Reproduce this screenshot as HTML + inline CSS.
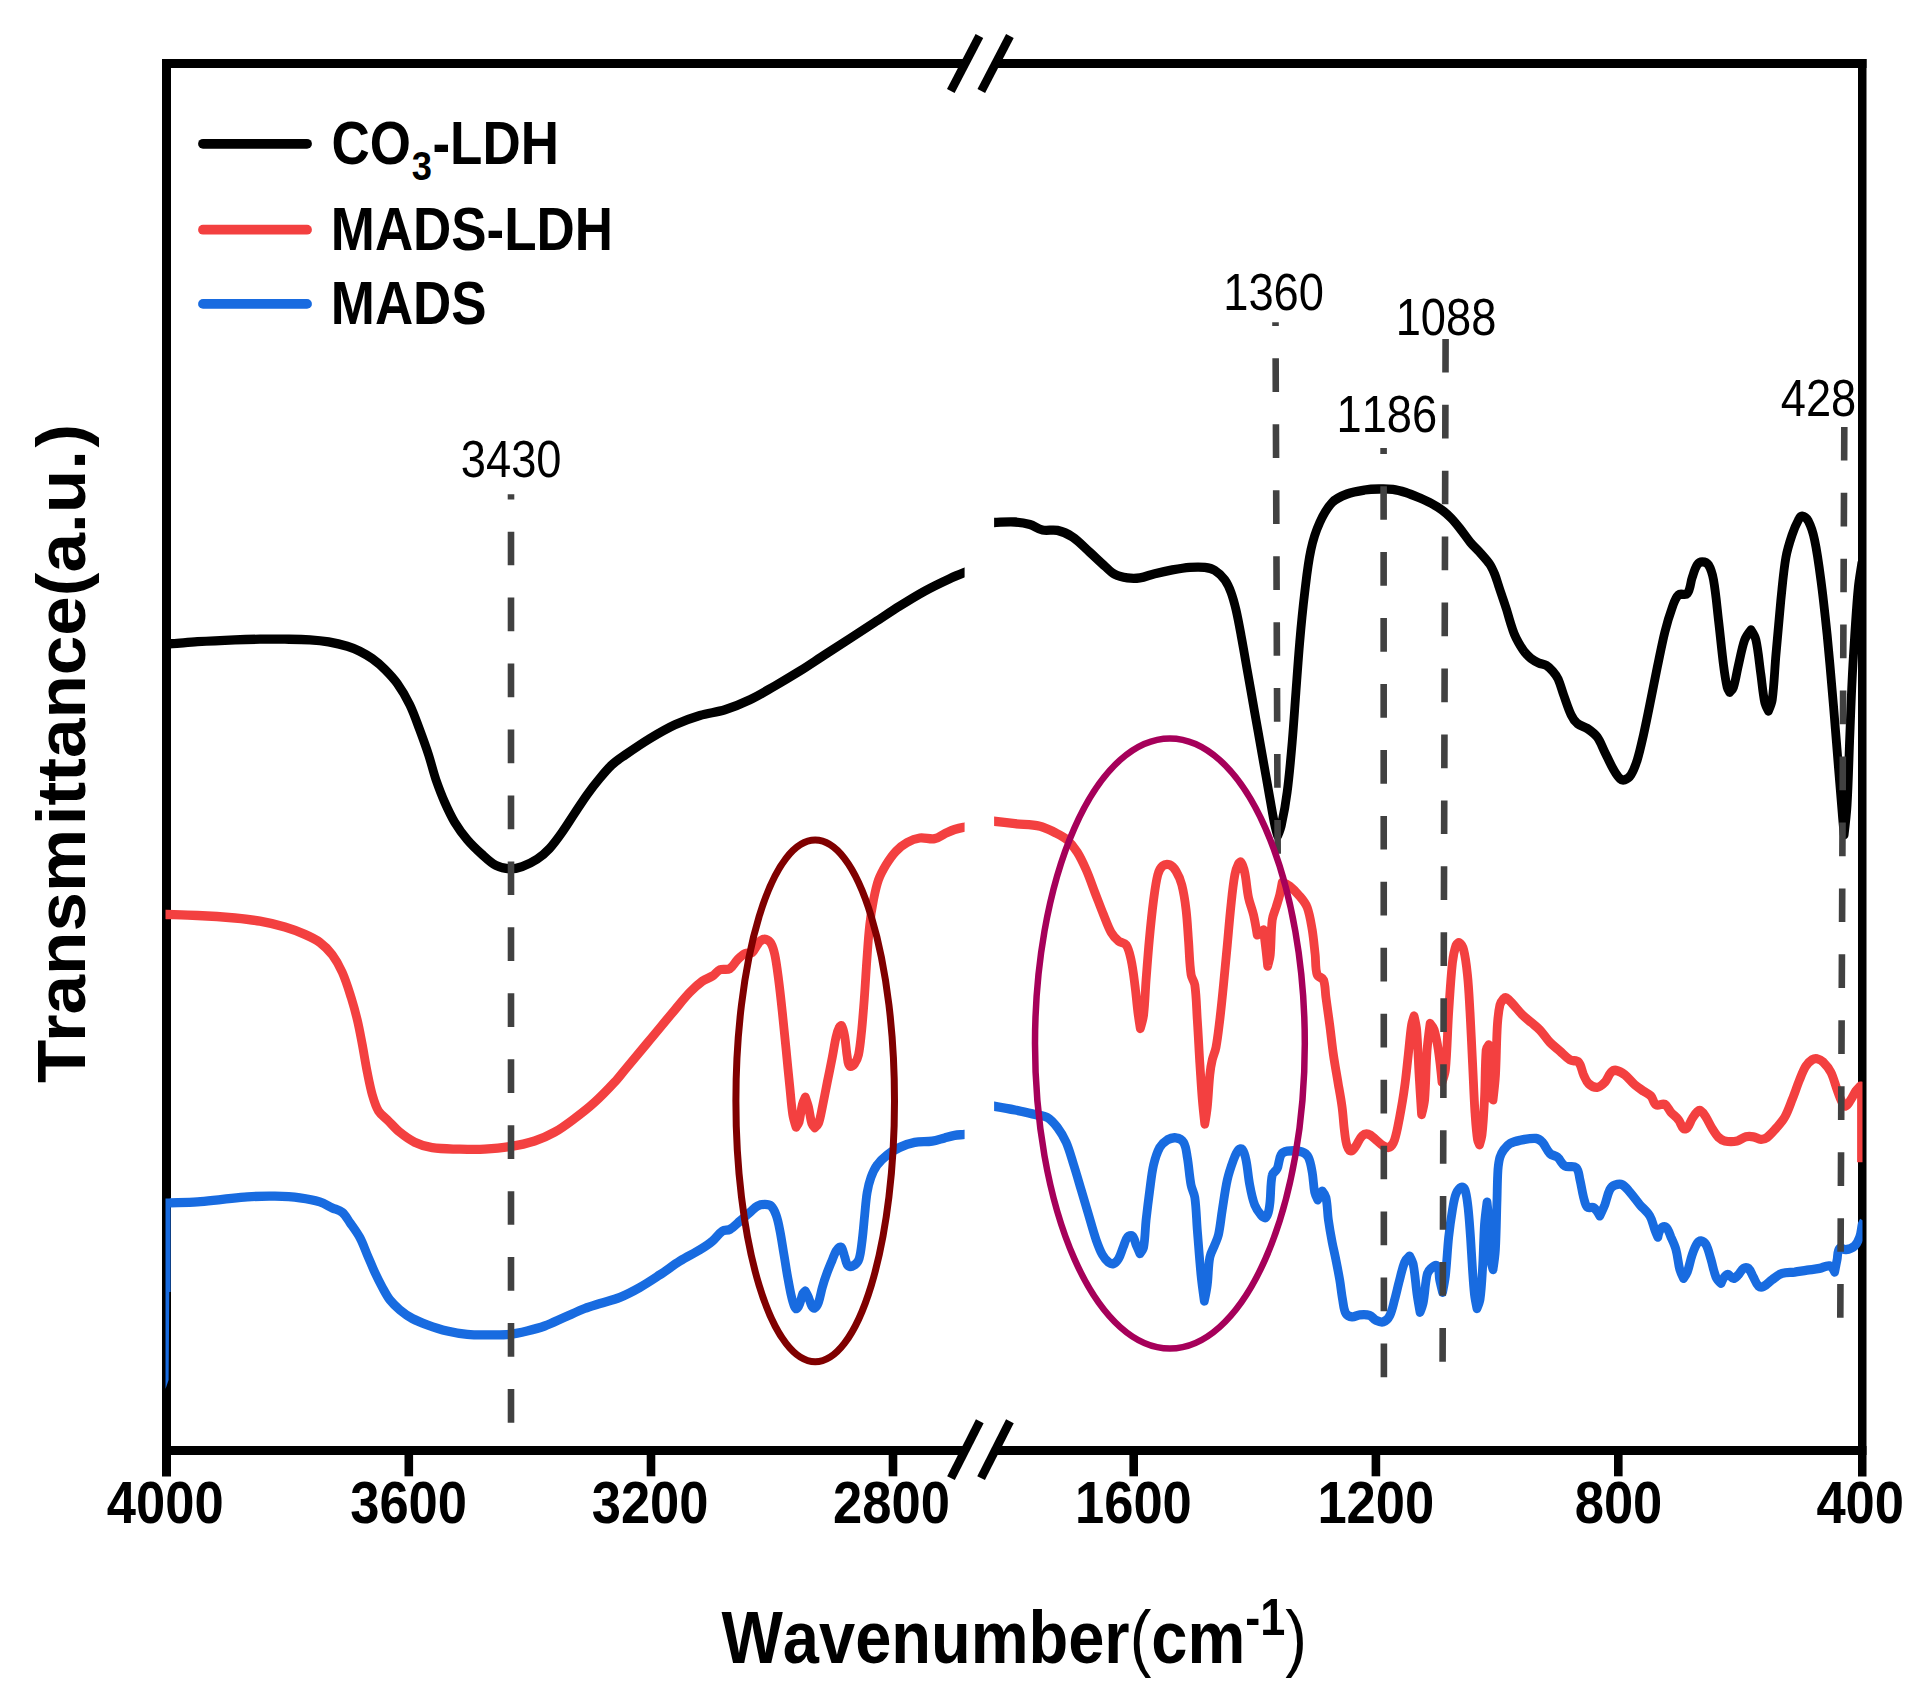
<!DOCTYPE html>
<html lang="en"><head><meta charset="utf-8"><title>FTIR spectra</title>
<style>
html,body{margin:0;padding:0;background:#fff;}
body{width:1922px;height:1705px;overflow:hidden;}
svg{display:block;}
text{font-family:"Liberation Sans", Arial, Helvetica, sans-serif;fill:#000;font-kerning:none;font-variant-ligatures:none;}
.b{font-weight:bold;}
.r{font-weight:normal;}
</style></head><body>
<svg width="1922" height="1705" viewBox="0 0 1922 1705">
<rect x="0" y="0" width="1922" height="1705" fill="#fff"/>
<defs>
<clipPath id="cl"><rect x="165.5" y="68" width="799.1" height="1378"/></clipPath>
<clipPath id="cr"><rect x="994.1" y="68" width="868.4" height="1378"/></clipPath>
<clipPath id="cbl"><rect x="165.5" y="68" width="799.1" height="1330"/></clipPath>
</defs>

<g fill="#000" stroke="none">
<rect x="162" y="59" width="9" height="1417.5"/>
<rect x="1858" y="59" width="8.5" height="1417.5"/>
<rect x="162" y="59" width="804" height="9"/>
<rect x="994" y="59" width="872.5" height="9"/>
<rect x="162" y="1446" width="804" height="9"/>
<rect x="994" y="1446" width="872.5" height="9"/>
<rect x="404.5" y="1455" width="8.6" height="21.3"/>
<rect x="646.7" y="1455" width="8.6" height="21.3"/>
<rect x="888.7" y="1455" width="8.6" height="21.3"/>
<rect x="1129.4" y="1455" width="8.6" height="21.3"/>
<rect x="1371.6" y="1455" width="8.6" height="21.3"/>
<rect x="1614.0" y="1455" width="8.6" height="21.3"/>
</g>
<g stroke="#000" stroke-width="8.6" stroke-linecap="butt" fill="none">
<line x1="950.8" y1="90.9" x2="979.4" y2="36.1"/>
<line x1="981.3" y1="90.9" x2="1009.9" y2="36.1"/>
<line x1="951.0" y1="1478.1" x2="979.8" y2="1421.3"/>
<line x1="981.1" y1="1478.1" x2="1009.9" y2="1421.3"/>
</g>
<g clip-path="url(#cl)"><g transform="scale(0.95,1)"><path d="M171.6,644.0C174.9,643.9 178.3,643.9 181.6,643.7C190.4,643.1 199.1,642.2 207.9,641.7C221.0,640.9 234.1,640.3 247.3,639.8C256.0,639.5 264.8,639.3 273.6,639.2C282.4,639.1 291.1,639.1 299.9,639.2C308.7,639.3 317.5,639.3 326.2,639.8C332.8,640.2 339.4,640.8 345.9,641.9C352.5,643.0 359.1,644.4 365.6,646.2C370.1,647.5 374.5,649.2 378.7,651.2C383.3,653.4 387.7,655.8 391.9,658.7C396.5,661.9 401.0,665.4 405.1,669.3C409.7,673.7 414.4,678.3 418.2,683.5C423.2,690.2 427.6,697.4 431.4,704.8C435.5,712.8 438.5,721.4 441.8,729.8C445.0,738.0 448.2,746.3 451.1,754.7C453.9,763.0 456.0,771.5 458.9,779.7C461.7,787.3 464.7,794.9 468.1,802.2C471.3,809.0 474.6,815.8 478.6,822.2C482.5,828.3 486.9,834.2 491.8,839.6C496.6,845.0 502.1,849.9 507.6,854.6C512.1,858.5 516.6,862.7 522.0,865.4C526.5,867.6 531.6,868.7 536.5,868.9C540.9,869.1 545.4,868.0 549.6,866.6C555.1,864.7 560.4,862.2 565.4,859.1C570.2,856.1 574.6,852.4 578.5,848.4C583.4,843.4 587.5,837.8 591.7,832.2C596.3,826.1 600.4,819.7 604.8,813.4C609.2,807.2 613.4,800.8 618.0,794.7C622.2,789.1 626.6,783.7 631.2,778.5C635.3,773.7 639.5,768.9 644.2,764.7C648.4,761.0 653.2,758.1 657.9,755.0C666.6,749.3 675.2,743.7 684.2,738.5C692.8,733.6 701.4,728.8 710.4,724.8C718.9,721.1 727.8,718.0 736.7,715.5C745.4,713.0 754.5,712.4 763.1,709.8C772.0,707.1 780.8,703.7 789.4,699.8C798.4,695.7 806.9,690.7 815.6,686.0C824.4,681.2 833.2,676.2 841.9,671.1C850.8,665.8 859.4,660.2 868.2,654.8C877.0,649.4 885.8,644.0 894.5,638.6C903.3,633.2 912.0,627.8 920.7,622.4C929.5,617.0 938.2,611.4 947.1,606.1C955.7,600.9 964.4,595.8 973.4,591.1C982.0,586.6 990.8,582.6 999.7,578.7C1004.8,576.4 1010.1,574.4 1015.4,572.4C1019.0,571.0 1022.7,569.8 1026.3,568.5" fill="none" stroke="#000" stroke-width="9.3" stroke-linejoin="round" stroke-linecap="butt"/></g></g>
<g clip-path="url(#cr)"><g transform="scale(0.95,1)"><path d="M1036.8,522.8C1039.9,522.7 1042.9,522.6 1046.0,522.5C1053.5,522.3 1061.0,521.6 1068.4,522.0C1073.7,522.3 1079.1,523.1 1084.2,524.5C1088.8,525.8 1092.6,529.1 1097.3,530.0C1102.4,531.1 1107.9,529.3 1113.1,530.4C1118.6,531.6 1124.1,533.8 1128.8,536.9C1135.6,541.2 1141.2,547.2 1147.3,552.4C1152.6,556.9 1157.7,561.7 1163.1,566.2C1166.5,569.1 1169.6,572.4 1173.6,574.4C1177.6,576.4 1182.2,577.3 1186.7,577.9C1191.1,578.5 1195.6,578.5 1199.9,577.9C1205.3,577.1 1210.3,574.9 1215.6,573.7C1221.7,572.3 1227.8,571.0 1234.0,569.9C1240.1,568.9 1246.2,567.9 1252.4,567.4C1257.7,567.0 1263.0,566.8 1268.2,567.4C1271.8,567.8 1275.6,568.5 1278.7,570.4C1282.8,572.8 1286.4,576.2 1289.3,579.9C1292.1,583.6 1294.1,588.0 1295.8,592.4C1298.0,598.1 1299.6,604.0 1301.1,609.9C1303.1,618.1 1304.7,626.5 1306.3,634.8C1308.6,646.4 1310.7,658.1 1312.8,669.8C1315.5,684.0 1318.1,698.1 1320.7,712.3C1323.4,726.4 1326.0,740.6 1328.6,754.7C1331.3,768.9 1333.9,783.0 1336.5,797.2C1338.3,806.4 1339.8,815.6 1341.8,824.7C1342.6,828.5 1344.9,836.0 1344.9,836.0C1344.9,836.0 1348.1,828.6 1348.9,824.7C1351.4,814.0 1353.5,803.1 1354.9,792.2C1357.2,775.6 1358.7,758.9 1360.2,742.2C1361.7,725.6 1362.8,708.9 1364.1,692.3C1365.4,675.6 1366.6,658.9 1368.1,642.3C1369.6,625.6 1371.3,609.0 1373.4,592.4C1375.2,578.2 1376.7,563.9 1379.9,549.9C1382.0,540.5 1385.0,531.2 1389.2,522.5C1392.6,515.3 1396.6,508.1 1402.3,502.5C1406.5,498.3 1412.4,496.0 1418.0,494.0C1423.9,491.8 1430.2,490.9 1436.4,490.0C1441.4,489.3 1446.5,489.1 1451.6,489.0C1456.5,488.9 1461.4,488.8 1466.2,489.4C1470.8,490.0 1475.3,491.2 1479.8,492.5C1484.4,493.9 1488.9,495.7 1493.4,497.5C1498.0,499.4 1502.5,501.2 1506.9,503.5C1510.7,505.4 1514.4,507.6 1517.8,510.0C1521.2,512.4 1524.4,515.1 1527.4,518.0C1530.8,521.3 1533.8,524.9 1536.8,528.5C1540.6,533.0 1543.8,537.9 1547.7,542.3C1551.1,546.2 1555.0,549.5 1558.5,553.2C1561.8,556.8 1565.3,560.2 1568.1,564.2C1570.3,567.4 1571.9,570.9 1573.5,574.5C1575.1,578.3 1576.2,582.2 1577.6,586.1C1578.9,590.0 1580.3,593.8 1581.7,597.7C1583.1,601.6 1584.5,605.5 1585.8,609.4C1587.2,613.7 1588.4,618.0 1589.8,622.3C1591.1,626.2 1592.3,630.1 1593.9,633.9C1595.2,637.0 1596.9,640.0 1598.6,642.9C1600.5,646.0 1602.4,649.1 1604.7,651.9C1606.8,654.3 1609.0,656.5 1611.6,658.4C1614.1,660.2 1616.9,661.7 1619.7,662.9C1622.3,664.0 1625.4,664.1 1627.9,665.5C1630.5,667.0 1632.6,669.1 1634.6,671.3C1636.7,673.6 1638.7,676.2 1640.1,679.0C1642.5,684.1 1643.9,689.6 1645.9,694.8C1648.5,701.5 1650.6,708.4 1653.8,714.8C1655.4,718.1 1657.6,721.2 1660.4,723.5C1663.5,725.9 1667.7,726.4 1670.9,728.5C1674.7,731.0 1678.6,733.6 1681.4,737.2C1684.8,741.7 1686.6,747.2 1689.3,752.2C1692.3,758.0 1695.1,764.0 1698.5,769.7C1700.4,772.8 1702.3,776.1 1705.1,778.5C1706.4,779.7 1708.6,780.2 1710.3,779.7C1713.0,778.9 1715.4,777.0 1716.9,774.7C1719.9,770.1 1721.8,764.9 1723.5,759.7C1726.1,751.5 1728.0,743.1 1730.0,734.8C1732.4,724.8 1734.5,714.8 1736.6,704.8C1739.3,692.3 1741.8,679.8 1744.5,667.3C1747.1,655.6 1749.4,643.9 1752.4,632.3C1754.6,623.9 1757.2,615.5 1760.3,607.4C1762.0,603.0 1763.3,598.0 1766.8,594.9C1769.2,592.8 1774.1,596.0 1776.1,593.6C1779.7,589.2 1779.3,582.7 1781.3,577.4C1782.8,573.2 1784.0,568.6 1786.5,564.9C1787.7,563.2 1789.8,561.9 1791.8,561.9C1794.2,561.9 1797.1,562.9 1798.4,564.9C1801.3,569.3 1802.7,574.7 1803.7,579.9C1806.2,593.1 1807.3,606.6 1808.9,619.9C1810.8,634.9 1812.2,649.9 1814.2,664.8C1815.2,672.3 1816.3,679.9 1818.1,687.3C1818.5,689.1 1820.7,692.3 1820.7,692.3C1820.7,692.3 1824.1,689.3 1824.7,687.3C1827.2,680.0 1828.1,672.3 1830.0,664.8C1832.1,656.4 1833.5,647.9 1836.5,639.8C1837.9,636.1 1843.1,629.9 1843.1,629.9C1843.1,629.9 1847.5,636.2 1848.3,639.8C1851.0,651.3 1851.8,663.1 1853.6,674.8C1854.9,684.0 1855.6,693.2 1857.6,702.3C1858.3,705.4 1861.5,711.0 1861.5,711.0C1861.5,711.0 1864.9,703.7 1865.5,699.8C1867.6,684.9 1868.0,669.8 1869.4,654.8C1871.0,636.5 1872.7,618.2 1874.6,599.9C1876.2,585.7 1877.3,571.4 1879.9,557.4C1881.3,549.7 1883.8,542.3 1886.4,534.9C1888.2,529.8 1890.4,524.7 1893.1,520.0C1893.9,518.4 1895.1,516.0 1896.9,516.2C1899.7,516.5 1902.2,518.8 1903.6,521.2C1906.8,527.0 1908.7,533.5 1910.1,539.9C1913.1,553.1 1914.9,566.5 1916.7,579.9C1919.3,598.2 1921.3,616.5 1923.3,634.8C1925.7,658.1 1927.8,681.5 1929.9,704.8C1931.8,725.6 1933.4,746.4 1935.2,767.2C1936.4,782.2 1937.7,797.2 1939.1,812.2C1939.7,819.7 1941.2,834.6 1941.2,834.6C1941.2,834.6 1943.7,814.7 1944.3,804.7C1945.6,783.9 1946.1,763.0 1946.9,742.2C1947.8,721.4 1948.5,700.6 1949.6,679.8C1950.4,663.2 1951.6,646.5 1952.7,629.9C1953.7,615.7 1954.6,601.5 1956.1,587.4C1957.0,578.9 1958.7,570.5 1960.0,562.0" fill="none" stroke="#000" stroke-width="9.3" stroke-linejoin="round" stroke-linecap="butt"/></g></g>
<g clip-path="url(#cl)"><g transform="scale(0.95,1)"><path d="M168.4,914.5C170.6,914.5 172.8,914.4 174.9,914.5C185.9,914.8 196.9,915.0 207.9,915.5C221.0,916.1 234.2,916.9 247.3,918.0C256.1,918.8 264.9,919.7 273.6,921.2C282.4,922.7 291.2,924.6 299.9,927.0C307.1,929.0 314.1,931.5 320.9,934.4C326.4,936.7 331.8,939.0 336.6,942.4C341.6,945.9 346.0,950.2 349.8,954.9C354.0,960.2 357.4,966.2 360.3,972.4C364.1,980.5 366.8,989.0 369.6,997.4C372.0,1004.8 374.2,1012.3 376.1,1019.9C378.2,1028.1 379.7,1036.5 381.4,1044.8C383.2,1054.0 384.7,1063.2 386.6,1072.3C388.2,1079.8 389.7,1087.4 391.9,1094.8C393.6,1100.4 395.3,1106.1 398.4,1111.0C400.7,1114.6 404.6,1116.9 407.7,1119.8C412.1,1123.9 416.1,1128.5 420.8,1132.2C425.7,1136.0 430.9,1139.6 436.5,1142.2C442.4,1144.9 448.6,1146.8 454.9,1147.7C464.5,1149.1 474.2,1148.9 483.9,1149.2C492.7,1149.4 501.4,1149.6 510.2,1149.2C519.0,1148.8 527.8,1148.1 536.5,1146.7C545.4,1145.3 554.2,1143.6 562.7,1141.0C570.0,1138.8 577.1,1135.8 583.8,1132.2C591.2,1128.3 598.0,1123.3 604.8,1118.5C612.1,1113.4 619.2,1108.1 625.9,1102.3C633.2,1096.0 640.1,1089.2 646.8,1082.3C650.8,1078.3 654.2,1073.9 657.9,1069.7C666.7,1059.7 675.5,1049.8 684.2,1039.8C693.0,1029.8 701.6,1019.7 710.4,1009.8C715.6,1003.9 720.6,997.8 726.2,992.3C730.3,988.2 734.6,984.4 739.4,981.1C742.6,978.9 746.6,978.1 749.9,976.1C752.8,974.3 754.7,971.1 757.8,969.8C761.1,968.5 765.2,970.3 768.3,968.6C771.8,966.7 773.4,962.5 776.2,959.8C778.6,957.5 781.1,955.0 784.1,953.6C786.5,952.5 789.7,953.8 791.9,952.3C794.4,950.6 795.3,947.3 797.2,944.9C798.4,943.3 799.4,941.4 801.2,940.4C802.7,939.5 804.7,938.9 806.4,939.4C808.6,940.1 810.5,941.7 811.7,943.6C813.7,947.0 814.7,950.9 815.6,954.8C817.4,963.0 818.4,971.4 819.6,979.8C821.1,990.6 822.3,1001.5 823.5,1012.3C824.9,1024.8 826.2,1037.3 827.5,1049.8C828.8,1062.3 830.0,1074.7 831.4,1087.2C832.4,1096.4 833.0,1105.6 834.5,1114.7C835.2,1119.0 838.0,1127.2 838.0,1127.2C838.0,1127.2 840.5,1124.1 841.1,1122.2C842.7,1116.5 843.0,1110.4 844.5,1104.7C845.2,1102.1 847.7,1097.2 847.7,1097.2C847.7,1097.2 850.2,1103.8 851.1,1107.2C852.4,1112.5 852.8,1118.1 854.5,1123.4C855.1,1125.1 857.7,1127.7 857.7,1127.7C857.7,1127.7 860.9,1125.2 861.6,1123.4C863.6,1118.2 864.4,1112.6 865.6,1107.2C867.4,1098.9 869.1,1090.5 870.8,1082.2C872.6,1073.9 874.4,1065.5 876.1,1057.2C877.5,1050.6 878.4,1043.9 880.0,1037.3C880.8,1033.9 881.8,1030.4 883.5,1027.3C883.9,1026.4 885.6,1025.2 886.1,1026.0C888.1,1029.4 888.5,1033.5 889.3,1037.3C890.5,1043.9 890.7,1050.6 891.9,1057.2C892.4,1060.2 892.1,1064.1 894.5,1066.0C896.0,1067.2 898.5,1065.0 899.7,1063.5C901.7,1061.0 903.0,1057.9 903.7,1054.8C905.5,1046.6 906.1,1038.2 907.1,1029.8C908.1,1019.8 908.9,1009.8 909.7,999.8C910.7,987.3 911.4,974.8 912.3,962.3C913.3,949.8 914.0,937.3 915.5,924.9C916.4,916.5 917.8,908.2 919.5,899.9C920.9,893.1 922.3,886.4 924.7,879.9C926.7,874.6 929.6,869.7 932.6,864.9C935.7,860.1 939.1,855.3 943.2,851.2C946.6,847.7 950.6,844.8 954.9,842.5C959.0,840.3 963.5,838.6 968.1,838.0C973.3,837.3 978.7,839.5 983.9,838.7C987.7,838.1 990.9,835.3 994.4,833.7C997.9,832.2 1001.3,830.6 1004.8,829.5C1008.3,828.4 1011.8,827.7 1015.4,827.0C1019.0,826.2 1022.7,825.7 1026.3,825.0" fill="none" stroke="#F34040" stroke-width="9.3" stroke-linejoin="round" stroke-linecap="butt"/></g></g>
<g clip-path="url(#cr)"><g transform="scale(0.95,1)"><path d="M1036.8,820.5C1039.9,820.7 1043.0,820.9 1046.0,821.2C1053.5,822.0 1060.9,822.9 1068.4,823.7C1077.2,824.6 1086.1,824.4 1094.7,826.2C1100.3,827.4 1105.3,830.1 1110.4,832.5C1115.0,834.7 1119.7,836.8 1123.6,840.0C1127.7,843.5 1131.1,847.9 1134.1,852.4C1137.7,857.9 1140.6,863.9 1143.4,869.9C1146.8,877.3 1149.5,884.9 1152.5,892.4C1155.6,899.9 1158.5,907.5 1161.7,914.9C1164.2,920.8 1166.3,926.9 1169.6,932.4C1171.6,935.8 1174.4,938.7 1177.5,941.1C1179.8,942.9 1183.7,942.5 1185.4,944.9C1188.4,949.2 1189.4,954.7 1190.6,959.8C1192.5,968.0 1193.5,976.4 1194.6,984.8C1195.9,993.9 1196.6,1003.2 1197.8,1012.3C1198.5,1017.7 1200.3,1028.5 1200.3,1028.5C1200.3,1028.5 1203.2,1019.5 1203.8,1014.8C1205.2,1003.2 1205.5,991.5 1206.4,979.8C1207.5,966.5 1208.5,953.2 1209.8,939.9C1211.1,926.5 1212.5,913.2 1214.3,899.9C1215.5,891.5 1216.5,883.1 1218.7,874.9C1219.6,871.7 1220.9,868.2 1223.5,866.2C1225.6,864.5 1228.8,864.0 1231.4,864.9C1234.3,865.9 1236.4,868.6 1238.0,871.2C1240.7,875.4 1242.7,880.1 1244.0,884.9C1246.2,893.1 1247.5,901.5 1248.5,909.9C1249.9,920.7 1250.3,931.6 1251.2,942.4C1252.0,953.2 1252.1,964.1 1253.8,974.8C1254.3,978.3 1257.2,981.3 1257.7,984.8C1259.4,996.4 1259.5,1008.1 1260.3,1019.8C1261.3,1033.9 1262.0,1048.1 1262.9,1062.2C1263.8,1074.7 1264.5,1087.2 1265.6,1099.7C1266.3,1107.8 1268.2,1124.0 1268.2,1124.0C1268.2,1124.0 1270.2,1112.8 1270.8,1107.2C1272.0,1096.4 1272.3,1085.5 1273.5,1074.7C1274.0,1069.7 1274.9,1064.6 1276.1,1059.7C1277.1,1055.5 1279.2,1051.6 1280.0,1047.3C1281.8,1038.2 1282.8,1029.0 1284.0,1019.8C1285.5,1008.2 1286.7,996.5 1287.9,984.8C1289.3,971.5 1290.6,958.2 1291.9,944.9C1293.2,931.6 1294.3,918.2 1295.8,904.9C1296.9,894.9 1297.9,884.8 1299.8,874.9C1300.5,871.0 1301.9,867.2 1303.7,863.7C1304.1,862.8 1305.7,861.6 1306.3,862.4C1308.5,865.3 1309.4,868.9 1310.2,872.4C1312.1,880.6 1312.4,889.2 1314.2,897.4C1315.5,903.4 1318.0,909.0 1319.5,914.9C1321.1,921.5 1323.4,934.9 1323.4,934.9C1323.4,934.9 1326.1,933.3 1327.4,932.4C1328.3,931.7 1330.0,929.9 1330.0,929.9C1330.0,929.9 1331.8,943.2 1332.6,949.8C1333.3,955.2 1334.4,966.1 1334.4,966.1C1334.4,966.1 1336.7,958.6 1337.1,954.8C1338.2,943.2 1337.7,931.5 1339.2,919.9C1339.7,915.6 1341.8,911.6 1343.2,907.4C1344.5,903.2 1346.0,899.1 1347.1,894.9C1348.1,890.8 1349.7,882.4 1349.7,882.4C1349.7,882.4 1355.2,884.4 1357.6,886.2C1361.5,889.1 1364.9,892.5 1368.1,896.2C1371.1,899.6 1374.3,903.1 1376.0,907.4C1378.8,914.6 1379.9,922.3 1381.3,929.9C1382.7,938.1 1383.4,946.5 1384.4,954.8C1385.2,961.5 1384.3,968.5 1386.5,974.8C1387.4,977.4 1392.0,977.3 1393.1,979.8C1395.3,985.3 1394.8,991.5 1395.7,997.3C1397.0,1006.5 1398.4,1015.6 1399.7,1024.8C1401.1,1034.8 1402.1,1044.8 1403.6,1054.7C1405.1,1064.7 1407.1,1074.7 1408.8,1084.7C1410.2,1092.2 1411.7,1099.7 1412.7,1107.2C1413.9,1115.5 1414.2,1123.9 1415.4,1132.2C1416.0,1136.8 1416.4,1141.5 1418.0,1145.9C1418.7,1147.9 1419.9,1150.9 1422.0,1150.9C1424.4,1150.9 1425.8,1147.8 1427.3,1145.9C1429.7,1142.8 1430.8,1138.5 1433.8,1135.9C1435.5,1134.4 1438.2,1133.6 1440.4,1134.2C1443.5,1135.0 1445.7,1137.8 1448.3,1139.7C1451.0,1141.7 1453.2,1144.4 1456.2,1145.9C1458.2,1146.9 1460.8,1148.2 1462.7,1147.2C1465.4,1145.8 1467.0,1142.6 1468.0,1139.7C1470.6,1132.4 1471.7,1124.8 1473.3,1117.2C1475.3,1107.2 1477.1,1097.2 1478.5,1087.2C1480.1,1076.4 1481.1,1065.5 1482.4,1054.7C1483.6,1044.7 1484.3,1034.7 1485.9,1024.8C1486.4,1021.8 1488.5,1016.0 1488.5,1016.0C1488.5,1016.0 1490.7,1025.1 1491.2,1029.8C1492.5,1044.7 1492.9,1059.7 1493.8,1074.7C1494.6,1088.0 1496.4,1114.5 1496.4,1114.5C1496.4,1114.5 1499.1,1104.7 1499.6,1099.7C1501.1,1083.1 1500.9,1066.4 1502.2,1049.8C1502.9,1041.0 1505.4,1023.5 1505.4,1023.5C1505.4,1023.5 1508.8,1027.4 1509.6,1029.8C1511.7,1036.3 1512.9,1043.1 1514.0,1049.8C1515.7,1060.5 1517.9,1082.2 1517.9,1082.2C1517.9,1082.2 1521.0,1074.2 1521.5,1070.0C1523.4,1050.9 1523.6,1031.6 1524.9,1012.4C1526.1,995.7 1527.0,979.0 1528.9,962.4C1529.6,956.5 1530.7,950.6 1532.8,945.0C1533.3,943.8 1535.2,942.3 1536.3,943.0C1538.6,944.5 1540.0,947.3 1540.7,950.0C1542.9,958.1 1543.8,966.5 1544.7,974.9C1546.1,987.4 1546.6,999.9 1547.4,1012.4C1548.4,1029.0 1549.1,1045.7 1550.0,1062.3C1550.9,1079.0 1551.5,1095.6 1552.6,1112.3C1553.3,1121.5 1553.9,1130.7 1555.3,1139.8C1555.5,1141.6 1557.4,1144.8 1557.4,1144.8C1557.4,1144.8 1559.6,1138.2 1560.0,1134.8C1561.4,1123.2 1562.0,1111.5 1562.6,1099.8C1563.5,1083.2 1563.1,1066.5 1564.4,1049.9C1564.6,1048.0 1567.1,1044.9 1567.1,1044.9C1567.1,1044.9 1568.9,1064.8 1569.7,1074.8C1570.4,1083.1 1571.6,1099.8 1571.6,1099.8C1571.6,1099.8 1573.7,1083.2 1574.2,1074.8C1575.2,1058.2 1575.1,1041.5 1576.2,1024.9C1576.7,1018.2 1577.3,1011.4 1578.9,1004.9C1579.5,1002.5 1581.2,1000.5 1582.8,998.7C1583.5,998.0 1584.7,997.5 1585.5,997.9C1588.0,999.3 1590.0,1001.6 1592.0,1003.6C1595.6,1007.2 1598.8,1011.4 1602.5,1014.9C1605.4,1017.6 1608.7,1019.9 1611.8,1022.4C1614.8,1024.9 1618.2,1027.1 1620.9,1029.9C1624.8,1033.8 1627.6,1038.5 1631.5,1042.4C1634.7,1045.6 1638.5,1048.2 1642.0,1051.1C1645.5,1054.0 1648.6,1057.5 1652.5,1059.8C1655.3,1061.4 1659.5,1060.0 1661.7,1062.3C1664.8,1065.6 1664.9,1070.7 1666.9,1074.8C1668.5,1077.9 1669.6,1081.4 1672.2,1083.6C1674.7,1085.8 1678.1,1087.6 1681.4,1087.3C1684.5,1087.1 1687.1,1084.5 1689.3,1082.3C1692.0,1079.4 1693.1,1075.1 1695.9,1072.3C1697.2,1071.0 1699.3,1070.0 1701.2,1070.3C1704.5,1070.9 1707.6,1072.8 1710.3,1074.8C1714.2,1077.7 1717.1,1081.7 1720.8,1084.8C1723.7,1087.2 1726.9,1089.1 1730.0,1091.1C1732.6,1092.8 1735.7,1093.9 1737.9,1096.1C1740.2,1098.5 1740.2,1103.1 1743.2,1104.8C1745.9,1106.3 1749.6,1103.0 1752.4,1104.3C1755.5,1105.8 1756.6,1109.8 1758.9,1112.3C1761.4,1115.0 1764.6,1117.0 1766.8,1119.8C1769.0,1122.4 1769.5,1126.3 1772.1,1128.5C1773.1,1129.4 1775.2,1128.8 1776.1,1127.8C1778.5,1125.2 1779.3,1121.5 1781.3,1118.5C1782.8,1116.1 1784.3,1113.6 1786.5,1111.8C1787.6,1110.9 1789.4,1110.3 1790.5,1111.0C1792.9,1112.4 1794.3,1115.0 1795.8,1117.3C1798.2,1120.9 1799.9,1124.9 1802.3,1128.5C1804.3,1131.6 1806.3,1134.8 1808.9,1137.3C1810.8,1139.0 1813.0,1140.5 1815.5,1141.0C1819.8,1141.8 1824.3,1141.8 1828.6,1141.0C1831.9,1140.4 1834.5,1137.6 1837.8,1136.8C1840.3,1136.2 1843.1,1136.4 1845.7,1136.8C1848.4,1137.2 1850.8,1139.2 1853.6,1139.3C1855.9,1139.4 1858.3,1138.6 1860.2,1137.3C1863.7,1134.9 1866.5,1131.6 1869.4,1128.5C1872.7,1124.9 1876.2,1121.5 1878.6,1117.3C1881.9,1111.8 1884.0,1105.7 1886.4,1099.8C1889.2,1093.2 1891.5,1086.4 1894.3,1079.8C1896.3,1075.1 1898.2,1070.3 1900.9,1066.1C1902.6,1063.6 1904.9,1061.4 1907.5,1059.8C1909.0,1058.9 1911.0,1058.4 1912.7,1058.8C1915.2,1059.3 1917.5,1060.6 1919.4,1062.3C1922.5,1065.2 1925.3,1068.5 1927.3,1072.3C1930.2,1077.8 1931.5,1084.0 1933.8,1089.8C1935.4,1094.0 1936.8,1098.4 1939.1,1102.3C1939.9,1103.9 1941.2,1106.5 1942.9,1106.0C1945.6,1105.3 1946.6,1102.0 1948.2,1099.8C1950.2,1097.0 1951.5,1093.8 1953.5,1091.1C1954.8,1089.2 1956.6,1087.8 1958.2,1086.1L1959.5,1086.1L1959.5,1162.2" fill="none" stroke="#F34040" stroke-width="9.3" stroke-linejoin="round" stroke-linecap="butt"/></g></g>
<g clip-path="url(#cl)"><g transform="scale(0.95,1)"><path d="M178.9,1202.9C188.6,1202.6 198.3,1202.5 207.9,1201.9C216.7,1201.3 225.4,1200.2 234.1,1199.4C242.9,1198.6 251.6,1197.4 260.4,1196.9C270.1,1196.3 279.7,1196.0 289.4,1196.2C298.2,1196.4 307.0,1196.8 315.7,1197.9C322.7,1198.8 329.8,1199.9 336.6,1201.9C341.3,1203.3 345.4,1205.9 349.8,1207.9C353.3,1209.4 357.3,1210.0 360.3,1212.4C363.7,1215.0 365.7,1219.0 368.2,1222.4C371.8,1227.3 375.7,1232.1 378.7,1237.4C381.9,1242.9 384.0,1249.0 386.6,1254.8C389.3,1260.6 391.7,1266.5 394.5,1272.3C397.0,1277.4 399.6,1282.4 402.4,1287.3C404.9,1291.6 407.2,1296.0 410.3,1299.8C413.4,1303.5 417.0,1306.8 420.8,1309.8C425.0,1313.1 429.3,1316.1 434.0,1318.5C439.0,1321.1 444.4,1323.0 449.7,1324.8C456.6,1327.2 463.6,1329.4 470.7,1331.0C477.7,1332.6 484.7,1333.7 491.8,1334.3C499.7,1335.0 507.6,1334.8 515.5,1334.8C522.5,1334.8 529.5,1335.0 536.5,1334.3C542.7,1333.7 548.8,1332.4 554.8,1331.0C561.0,1329.6 567.3,1328.1 573.3,1326.0C580.4,1323.5 587.3,1320.2 594.3,1317.3C601.3,1314.4 608.2,1311.1 615.4,1308.5C620.7,1306.5 626.2,1305.1 631.6,1303.5C638.6,1301.4 645.8,1299.9 652.6,1297.3C659.9,1294.5 666.8,1291.0 673.7,1287.3C680.9,1283.5 687.7,1279.1 694.6,1274.8C701.7,1270.4 708.5,1265.4 715.7,1261.1C722.5,1257.0 729.9,1253.8 736.7,1249.8C741.3,1247.1 745.8,1244.4 749.9,1241.1C753.7,1238.1 756.3,1233.7 760.4,1231.1C762.7,1229.7 766.0,1230.7 768.3,1229.4C772.2,1227.3 775.4,1223.9 778.8,1221.1C782.4,1218.2 785.8,1215.3 789.4,1212.4C792.0,1210.3 794.2,1207.6 797.2,1206.1C799.6,1204.9 802.4,1204.4 805.1,1204.4C807.3,1204.4 810.0,1204.6 811.7,1206.1C814.2,1208.4 815.7,1211.7 816.9,1214.9C818.8,1219.7 819.8,1224.8 820.8,1229.9C822.4,1237.3 823.5,1244.8 824.8,1252.3C826.2,1259.8 827.3,1267.3 828.7,1274.8C830.0,1281.5 831.2,1288.2 832.7,1294.8C833.6,1298.6 834.5,1302.4 836.1,1306.0C836.6,1307.1 837.6,1309.0 838.7,1308.5C840.5,1307.7 841.1,1305.3 841.9,1303.5C843.3,1300.3 843.6,1296.7 845.1,1293.5C845.6,1292.4 847.7,1291.0 847.7,1291.0C847.7,1291.0 850.1,1295.1 851.1,1297.3C852.3,1300.1 852.9,1303.4 854.5,1306.0C855.2,1307.0 856.6,1308.4 857.7,1307.8C859.7,1306.8 860.8,1304.4 861.6,1302.3C863.4,1297.5 864.1,1292.2 865.6,1287.3C867.1,1282.2 868.9,1277.2 870.8,1272.3C872.5,1268.1 874.3,1264.0 876.1,1259.8C877.4,1256.9 878.4,1253.8 880.0,1251.1C880.9,1249.6 882.0,1248.1 883.5,1247.3C884.3,1246.9 885.7,1247.0 886.1,1247.8C887.8,1250.7 888.1,1254.2 889.3,1257.3C890.4,1260.3 890.6,1264.2 893.2,1266.1C895.0,1267.4 897.8,1266.0 899.7,1264.8C901.8,1263.4 903.6,1261.1 904.4,1258.6C906.3,1252.5 906.7,1246.1 907.6,1239.8C908.7,1231.5 909.3,1223.2 910.2,1214.9C911.0,1207.4 911.5,1199.8 912.8,1192.4C913.7,1187.3 915.0,1182.2 916.8,1177.4C918.5,1173.0 920.5,1168.6 923.4,1164.9C926.3,1161.0 930.0,1157.8 933.9,1154.9C938.0,1151.9 942.4,1149.4 947.1,1147.4C952.1,1145.2 957.4,1143.4 962.8,1142.4C968.9,1141.3 975.2,1142.1 981.3,1141.2C985.7,1140.6 990.0,1139.0 994.4,1137.9C997.9,1137.0 1001.3,1136.0 1004.8,1135.4C1008.3,1134.8 1011.9,1134.8 1015.4,1134.4C1019.0,1134.0 1022.7,1133.5 1026.3,1133.0" fill="none" stroke="#186BE0" stroke-width="9.3" stroke-linejoin="round" stroke-linecap="butt"/></g></g>
<path d="M165.5,1198.5L170.6,1198.5L170.6,1292L169.3,1292L168.6,1380L165.5,1389Z" fill="#186BE0"/>
<g clip-path="url(#cr)"><g transform="scale(0.95,1)"><path d="M1036.8,1105.0C1039.9,1105.4 1043.0,1105.7 1046.0,1106.2C1053.5,1107.4 1061.0,1108.6 1068.4,1110.0C1075.5,1111.3 1082.5,1113.0 1089.5,1114.5C1093.8,1115.5 1098.6,1115.3 1102.5,1117.5C1106.8,1119.8 1110.0,1123.7 1113.1,1127.5C1116.7,1132.1 1119.9,1137.1 1122.3,1142.4C1125.6,1149.6 1127.7,1157.4 1130.2,1164.9C1133.0,1173.2 1135.5,1181.6 1138.1,1189.9C1140.7,1198.2 1143.3,1206.6 1145.9,1214.9C1148.5,1223.2 1150.8,1231.6 1153.8,1239.8C1155.7,1244.9 1157.7,1250.1 1160.4,1254.8C1162.1,1257.7 1164.3,1260.3 1166.9,1262.3C1168.4,1263.4 1170.5,1264.2 1172.2,1263.6C1174.5,1262.8 1176.2,1260.7 1177.5,1258.6C1179.8,1254.7 1180.9,1250.2 1182.7,1246.1C1184.0,1243.1 1184.5,1239.7 1186.7,1237.3C1188.0,1236.0 1190.6,1235.0 1192.0,1236.1C1194.5,1238.1 1194.6,1241.9 1195.9,1244.8C1197.2,1247.7 1199.9,1253.6 1199.9,1253.6C1199.9,1253.6 1203.3,1249.7 1203.8,1247.3C1205.5,1238.3 1205.4,1229.0 1206.4,1219.9C1207.6,1209.9 1208.9,1199.9 1210.3,1189.9C1211.5,1181.5 1212.3,1173.1 1214.3,1164.9C1215.8,1158.9 1217.7,1152.8 1220.8,1147.4C1222.7,1144.3 1225.6,1141.7 1228.7,1139.9C1231.5,1138.4 1234.9,1137.4 1238.0,1137.9C1241.0,1138.3 1244.3,1139.8 1245.9,1142.4C1248.6,1146.8 1248.9,1152.3 1249.8,1157.4C1251.5,1166.5 1251.9,1175.8 1253.7,1184.9C1254.5,1189.2 1257.0,1193.1 1257.7,1197.4C1259.3,1208.2 1259.4,1219.1 1260.3,1229.9C1261.6,1244.9 1262.7,1259.9 1264.2,1274.8C1265.1,1283.6 1267.7,1301.0 1267.7,1301.0C1267.7,1301.0 1270.1,1290.3 1270.8,1284.8C1272.1,1275.7 1271.7,1266.3 1273.5,1257.3C1274.3,1252.9 1277.0,1249.0 1278.7,1244.8C1280.1,1241.5 1281.8,1238.3 1282.6,1234.8C1284.5,1226.6 1285.2,1218.2 1286.6,1209.9C1288.3,1199.9 1289.6,1189.8 1291.9,1179.9C1293.5,1173.1 1295.9,1166.4 1298.4,1159.9C1299.8,1156.4 1301.2,1152.7 1303.7,1149.9C1304.5,1148.9 1306.8,1148.4 1307.6,1149.4C1309.9,1152.3 1310.8,1156.2 1311.6,1159.9C1313.4,1168.1 1313.8,1176.6 1315.5,1184.9C1316.8,1191.7 1318.2,1198.5 1320.7,1204.9C1322.2,1208.6 1324.6,1212.0 1327.4,1214.9C1328.7,1216.3 1331.3,1218.8 1332.6,1217.4C1335.6,1214.2 1335.9,1209.2 1336.5,1204.9C1338.0,1195.0 1337.0,1184.7 1339.2,1174.9C1339.7,1172.3 1343.3,1171.2 1344.4,1168.7C1346.4,1164.4 1346.0,1159.0 1348.4,1154.9C1349.7,1152.8 1352.5,1151.5 1354.9,1151.2C1360.2,1150.5 1365.7,1150.5 1370.7,1151.9C1373.5,1152.7 1376.0,1154.9 1377.3,1157.4C1379.6,1162.0 1380.3,1167.3 1381.3,1172.4C1382.5,1179.0 1382.5,1185.8 1383.9,1192.4C1384.5,1195.1 1387.1,1199.9 1387.1,1199.9C1387.1,1199.9 1391.8,1191.1 1391.8,1191.1C1391.8,1191.1 1395.1,1195.0 1395.7,1197.4C1397.4,1204.8 1397.2,1212.4 1398.3,1219.9C1399.4,1227.4 1400.8,1234.9 1402.3,1242.3C1403.5,1248.2 1405.0,1254.0 1406.2,1259.8C1407.6,1266.5 1409.0,1273.1 1410.2,1279.8C1411.4,1286.4 1412.0,1293.2 1413.3,1299.8C1414.2,1304.4 1414.3,1309.4 1416.7,1313.5C1418.0,1315.6 1420.8,1316.6 1423.3,1316.8C1426.0,1317.0 1428.5,1315.0 1431.2,1314.8C1434.7,1314.5 1438.3,1314.2 1441.7,1315.3C1444.3,1316.1 1445.8,1319.2 1448.3,1320.3C1450.8,1321.4 1453.6,1322.6 1456.2,1321.8C1459.0,1321.0 1461.4,1318.6 1462.7,1316.0C1465.4,1311.0 1466.4,1305.3 1468.0,1299.8C1469.9,1293.2 1471.4,1286.4 1473.3,1279.8C1474.9,1273.9 1476.1,1267.9 1478.5,1262.3C1479.6,1259.8 1483.8,1256.1 1483.8,1256.1C1483.8,1256.1 1487.0,1261.7 1487.7,1264.8C1489.7,1274.7 1490.2,1284.8 1491.7,1294.8C1492.6,1300.7 1494.8,1312.3 1494.8,1312.3C1494.8,1312.3 1497.5,1305.8 1498.2,1302.3C1500.0,1293.2 1500.1,1283.8 1502.2,1274.8C1502.8,1272.4 1504.2,1270.2 1506.1,1268.6C1507.9,1267.1 1511.2,1264.3 1512.7,1266.1C1515.7,1269.7 1514.4,1275.3 1515.4,1279.8C1516.3,1284.0 1518.5,1292.3 1518.5,1292.3C1518.5,1292.3 1520.8,1281.5 1521.5,1276.0C1523.0,1263.1 1523.5,1250.1 1524.9,1237.2C1526.0,1228.0 1527.3,1218.8 1528.9,1209.7C1529.9,1204.2 1530.7,1198.6 1532.8,1193.5C1533.9,1191.0 1535.6,1188.2 1538.1,1187.2C1539.6,1186.6 1541.6,1188.2 1542.1,1189.7C1544.1,1195.3 1544.5,1201.3 1545.3,1207.2C1546.5,1217.2 1547.1,1227.2 1547.9,1237.2C1548.7,1248.0 1549.2,1258.8 1550.0,1269.6C1550.6,1277.9 1551.1,1286.3 1552.1,1294.6C1552.7,1299.3 1554.7,1308.5 1554.7,1308.5C1554.7,1308.5 1557.4,1302.7 1557.9,1299.6C1559.4,1289.7 1559.9,1279.6 1560.5,1269.6C1561.5,1254.6 1561.6,1239.6 1562.6,1224.7C1563.2,1217.2 1565.3,1202.2 1565.3,1202.2C1565.3,1202.2 1567.0,1217.2 1567.6,1224.7C1568.5,1237.2 1568.6,1249.7 1569.7,1262.1C1569.9,1264.7 1571.6,1269.6 1571.6,1269.6C1571.6,1269.6 1573.7,1256.4 1574.1,1249.7C1575.1,1233.1 1575.2,1216.4 1575.8,1199.7C1576.1,1189.7 1576.1,1179.7 1576.8,1169.7C1577.2,1165.5 1577.7,1161.2 1578.9,1157.2C1579.8,1154.5 1581.1,1152.0 1582.8,1149.8C1584.7,1147.4 1586.8,1145.0 1589.5,1143.5C1592.7,1141.7 1596.4,1141.0 1600.0,1140.3C1605.6,1139.3 1611.4,1138.0 1617.1,1138.5C1619.6,1138.7 1621.8,1140.5 1623.6,1142.3C1626.7,1145.6 1628.2,1150.4 1631.5,1153.5C1633.6,1155.5 1637.1,1155.4 1639.4,1157.2C1642.5,1159.6 1643.8,1164.1 1647.3,1166.0C1650.8,1167.9 1656.1,1165.1 1659.1,1167.7C1662.2,1170.5 1662.0,1175.6 1663.1,1179.7C1664.6,1185.5 1665.3,1191.5 1666.9,1197.2C1667.9,1200.7 1668.4,1204.7 1670.9,1207.2C1672.5,1208.7 1675.7,1206.5 1677.5,1207.7C1680.4,1209.6 1684.0,1215.9 1684.0,1215.9C1684.0,1215.9 1687.7,1208.5 1689.3,1204.7C1691.2,1199.8 1692.0,1194.4 1694.5,1189.7C1695.6,1187.7 1697.6,1186.0 1699.8,1185.2C1702.3,1184.3 1705.3,1183.6 1707.7,1184.7C1711.0,1186.2 1713.1,1189.5 1715.6,1192.2C1719.3,1196.2 1722.5,1200.6 1726.1,1204.7C1729.5,1208.5 1733.9,1211.6 1736.6,1215.9C1739.3,1220.1 1740.1,1225.1 1741.9,1229.7C1742.9,1232.2 1745.1,1237.2 1745.1,1237.2C1745.1,1237.2 1746.4,1230.8 1748.4,1228.4C1749.6,1227.0 1752.3,1226.0 1753.7,1227.2C1756.6,1229.6 1757.4,1233.8 1758.9,1237.2C1760.9,1241.3 1763.0,1245.4 1764.2,1249.7C1766.1,1256.2 1766.4,1263.1 1768.2,1269.6C1769.1,1272.7 1772.1,1278.4 1772.1,1278.4C1772.1,1278.4 1775.2,1274.4 1776.1,1272.1C1778.3,1266.4 1779.2,1260.3 1781.3,1254.6C1782.7,1250.7 1784.2,1246.8 1786.5,1243.4C1787.4,1242.1 1789.0,1240.7 1790.5,1240.9C1792.7,1241.2 1794.7,1242.8 1795.8,1244.7C1798.4,1249.3 1799.4,1254.6 1801.1,1259.6C1802.9,1265.4 1803.9,1271.5 1806.3,1277.1C1807.4,1279.6 1811.6,1283.4 1811.6,1283.4C1811.6,1283.4 1814.7,1275.9 1818.1,1274.6C1820.5,1273.7 1822.2,1278.4 1824.7,1278.4C1826.9,1278.4 1828.4,1276.1 1830.0,1274.6C1831.9,1272.7 1832.8,1269.8 1835.2,1268.4C1836.7,1267.5 1839.1,1267.3 1840.4,1268.4C1843.0,1270.6 1843.9,1274.2 1845.7,1277.1C1847.4,1280.0 1848.4,1283.6 1850.9,1285.9C1852.3,1287.1 1854.6,1287.3 1856.2,1286.6C1859.8,1285.1 1862.3,1281.7 1865.5,1279.6C1868.9,1277.3 1872.1,1274.6 1876.0,1273.4C1880.2,1272.1 1884.7,1272.6 1889.1,1272.1C1893.5,1271.5 1897.8,1270.7 1902.2,1270.1C1906.6,1269.5 1911.0,1269.2 1915.4,1268.4C1918.9,1267.8 1922.4,1265.1 1925.9,1265.9C1928.5,1266.5 1931.2,1272.1 1931.2,1272.1C1931.2,1272.1 1932.9,1263.8 1933.8,1259.6C1934.6,1255.9 1933.8,1251.2 1936.4,1248.4C1937.9,1246.8 1940.8,1250.0 1942.9,1249.7C1946.2,1249.2 1949.7,1248.1 1952.2,1245.9C1954.8,1243.7 1956.3,1240.4 1957.5,1237.2C1959.0,1233.2 1959.2,1228.9 1960.1,1224.7L1962.1,1221.0" fill="none" stroke="#186BE0" stroke-width="9.3" stroke-linejoin="round" stroke-linecap="butt"/></g></g>
<g stroke="#414141" stroke-width="6.6" fill="none" stroke-dasharray="33.7 32.25">
<line x1="511" y1="1422.7" x2="511" y2="494.2"/>
<line x1="1277.7" y1="853.7" x2="1275.5" y2="322.2"/>
<line x1="1383.9" y1="1377.2" x2="1383.6" y2="448.1"/>
<line x1="1442.6" y1="1361.7" x2="1445.6" y2="339"/>
<line x1="1840.3" y1="1317.8" x2="1844.3" y2="427"/>
</g>
<ellipse cx="815.2" cy="1100.9" rx="79.3" ry="260.9" fill="none" stroke="#800000" stroke-width="7"/>
<ellipse cx="1169.9" cy="1043.5" rx="134.9" ry="305" fill="none" stroke="#A6005A" stroke-width="6.5"/>
<g stroke-width="9.8" stroke-linecap="round" fill="none">
<line x1="203" y1="143.8" x2="307" y2="143.8" stroke="#000"/>
<line x1="203" y1="229.7" x2="307" y2="229.7" stroke="#F34040"/>
<line x1="203" y1="303.9" x2="307" y2="303.9" stroke="#186BE0"/>
</g>
<text class="b" font-size="60.5" transform="translate(331.6,164.2) scale(0.875,1)">CO<tspan font-size="41.5" dy="15.5" dx="1">3</tspan><tspan dy="-15.5" dx="0.5">-LDH</tspan></text>
<text class="b" font-size="60.5" transform="translate(330.8,249.7) scale(0.875,1)">MADS-LDH</text>
<text class="b" font-size="60.5" transform="translate(330.8,323.9) scale(0.875,1)">MADS</text>
<text class="r" font-size="51.5" text-anchor="middle" transform="translate(511.2,476.5) scale(0.879,1)">3430</text>
<text class="r" font-size="51.5" text-anchor="middle" transform="translate(1273.6,310.3) scale(0.879,1)">1360</text>
<text class="r" font-size="51.5" text-anchor="middle" transform="translate(1446,335) scale(0.879,1)">1088</text>
<text class="r" font-size="51.5" text-anchor="middle" transform="translate(1386.8,432.3) scale(0.879,1)">1186</text>
<text class="r" font-size="51.5" text-anchor="middle" transform="translate(1818.5,415.6) scale(0.879,1)">428</text>
<text class="b" font-size="60" text-anchor="middle" transform="translate(165.2,1523.3) scale(0.875,1)">4000</text>
<text class="b" font-size="60" text-anchor="middle" transform="translate(408.6,1523.3) scale(0.875,1)">3600</text>
<text class="b" font-size="60" text-anchor="middle" transform="translate(650.1,1523.3) scale(0.875,1)">3200</text>
<text class="b" font-size="60" text-anchor="middle" transform="translate(891.5,1523.3) scale(0.875,1)">2800</text>
<text class="b" font-size="60" text-anchor="middle" transform="translate(1133.4,1523.3) scale(0.875,1)">1600</text>
<text class="b" font-size="60" text-anchor="middle" transform="translate(1375.8,1523.3) scale(0.875,1)">1200</text>
<text class="b" font-size="60" text-anchor="middle" transform="translate(1618.5,1523.3) scale(0.875,1)">800</text>
<text class="b" font-size="60" text-anchor="middle" transform="translate(1860.2,1523.3) scale(0.875,1)">400</text>
<text class="b" font-size="74.3" transform="translate(721.5,1663.3) scale(0.875,1)">Wavenumber<tspan class="r">(</tspan>cm<tspan font-size="51.5" dy="-28.5">-1</tspan><tspan class="r" dy="28.5">)</tspan></text>
<text class="b" font-size="72" transform="translate(85.2,1083) rotate(-90) scale(0.987,0.954)">T<tspan dx="-2.5">ransm</tspan><tspan dx="3.7">ittance(a.u.</tspan><tspan dx="2.5">)</tspan></text>
</svg></body></html>
